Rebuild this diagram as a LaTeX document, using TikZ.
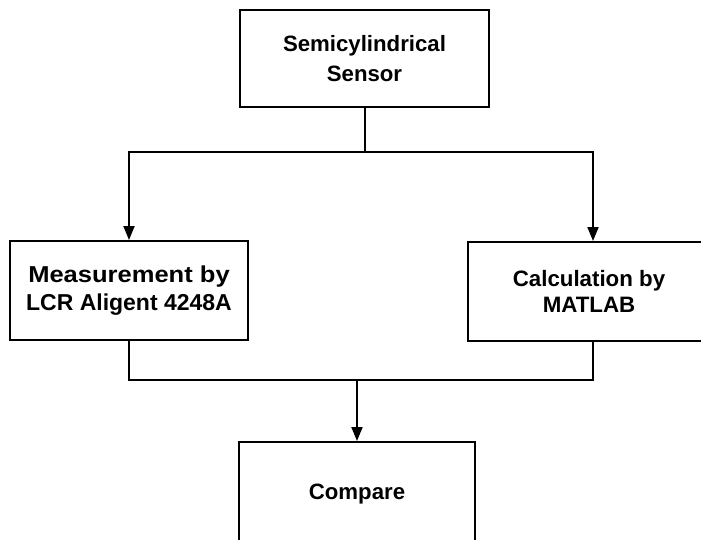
\documentclass[tikz,border=0pt]{standalone}
\usepackage{fontspec}
\setmainfont{Liberation Sans}
\usetikzlibrary{arrows.meta}
\begin{document}
\begin{tikzpicture}[x=1pt,y=-1pt,
  box/.style={draw,line width=2pt,inner sep=0pt,align=center,font=\bfseries},
  conn/.style={line width=2pt},
  arr/.style={conn,-{Triangle[length=14pt,width=11pt]}}]
\useasboundingbox (0,0) rectangle (701,540);
\clip (0,0) rectangle (701,540);
\fill[white] (0,0) rectangle (701,540);
\node[box,minimum width=249pt,minimum height=97pt,font=\fontsize{22.2}{30}\selectfont\bfseries] (top) at (364.5,58.5) {Semicylindrical\\Sensor};
\node[box,minimum width=238pt,minimum height=99pt,font=\fontsize{23}{28}\selectfont\bfseries] (left) at (129,290.5) {\scalebox{1.11}[1]{Measurement by}\\LCR Aligent 4248A};
\node[box,minimum width=242pt,minimum height=99pt,font=\fontsize{22.3}{26.5}\selectfont\bfseries] (right) at (589,291.5) {Calculation by\\MATLAB};
\node[box,minimum width=236pt,minimum height=104pt,font=\fontsize{22.2}{26}\selectfont\bfseries] (bot) at (357,494) {\raisebox{2pt}{Compare}};
\coordinate (j1) at (364.5,152);
\coordinate (j2) at (357,380);
\draw[conn] (top.south) -- (j1);
\draw[arr] (j1) -| (left.north);
\draw[arr] (j1) -| ([xshift=4pt]right.north);
\draw[conn] (left.south) |- (j2);
\draw[conn] ([xshift=4pt]right.south) |- (j2);
\draw[arr] (j2) -- (bot.north);
\end{tikzpicture}
\end{document}
